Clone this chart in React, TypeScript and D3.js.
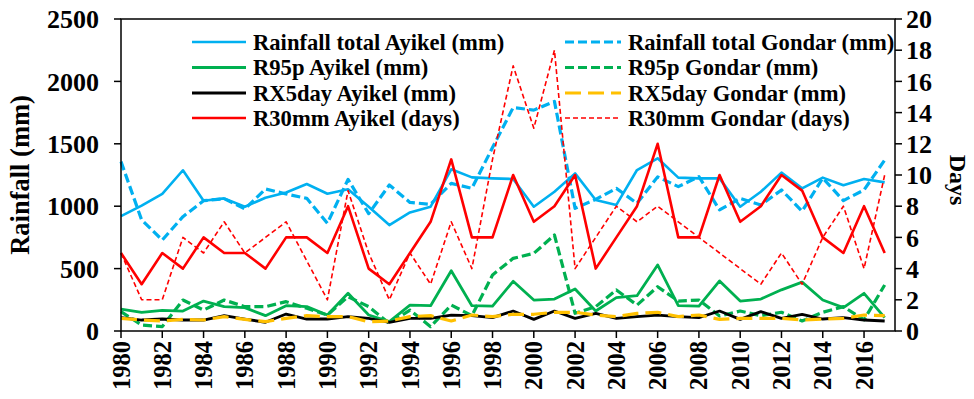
import React from "react";
import * as d3 from "d3";

const years: number[] = d3.range(1980, 2018);

const rainAyikel = [920, 1005, 1098, 1288, 1044, 1063, 996, 1068, 1110, 1178, 1100, 1135, 996, 849, 950, 996, 1296, 1231, 1223, 1218, 996, 1116, 1263, 1050, 1010, 1290, 1384, 1229, 1223, 1223, 996, 1116, 1269, 1143, 1229, 1168, 1218, 1191];
const rainGondar = [1357, 890, 729, 916, 1044, 1060, 978, 1138, 1098, 1063, 863, 1215, 940, 1170, 1030, 1015, 1183, 1143, 1470, 1790, 1770, 1840, 983, 1055, 1143, 1023, 1235, 1157, 1237, 970, 1063, 1010, 1130, 960, 1225, 1045, 1130, 1370];
const r95Ayikel = [176, 150, 166, 160, 240, 195, 187, 123, 203, 195, 128, 302, 128, 75, 208, 203, 483, 203, 200, 398, 248, 256, 337, 160, 267, 283, 529, 203, 200, 401, 240, 256, 330, 392, 248, 187, 302, 107];
const r95Gondar = [155, 48, 35, 248, 168, 248, 195, 195, 235, 182, 128, 275, 195, 61, 168, 35, 208, 123, 449, 582, 622, 769, 142, 195, 329, 208, 355, 240, 248, 120, 160, 123, 150, 80, 150, 195, 90, 369];
const rx5Ayikel = [107, 88, 96, 88, 88, 123, 96, 70, 136, 96, 96, 115, 101, 70, 101, 101, 128, 123, 107, 160, 93, 160, 101, 141, 101, 115, 128, 115, 107, 160, 93, 155, 101, 134, 96, 107, 88, 80];
const rx5Gondar = [101, 88, 80, 93, 88, 115, 93, 75, 101, 123, 115, 115, 75, 80, 115, 123, 80, 128, 115, 134, 134, 150, 150, 128, 115, 141, 150, 115, 128, 93, 101, 101, 101, 88, 96, 101, 128, 123];
const r30Ayikel = [5, 3, 5, 4, 6, 5, 5, 4, 6, 6, 5, 8, 4, 3, 5, 7, 11, 6, 6, 10, 7, 8, 10, 4, 6, 8, 12, 6, 6, 10, 7, 8, 10, 9, 6, 5, 8, 5];
const r30Gondar = [5, 2, 2, 6, 5, 7, 5, 6, 7, 4.5, 2, 9, 5, 2, 5, 3, 7, 4, 11, 17, 13, 18, 4, 6, 8, 7, 8, 7, 6, 5, 4, 3, 5, 3, 6, 8, 4, 10];

const leftTicks = [0, 500, 1000, 1500, 2000, 2500];
const rightTicks = [0, 2, 4, 6, 8, 10, 12, 14, 16, 18, 20];
const yearTicks = d3.range(1980, 2017, 2);

const FONT = "'Liberation Serif', 'Times New Roman', serif";

type Series = {
  name: string;
  values: number[];
  axis: "left" | "right";
  color: string;
  width: number;
  dash?: string;
};

const series: Series[] = [
  { name: "Rainfall total Ayikel (mm)", values: rainAyikel, axis: "left", color: "#00B0F0", width: 2.6 },
  { name: "Rainfall total Gondar (mm)", values: rainGondar, axis: "left", color: "#00B0F0", width: 3.2, dash: "9,4" },
  { name: "R95p Ayikel (mm)", values: r95Ayikel, axis: "left", color: "#00B050", width: 2.8 },
  { name: "R95p Gondar (mm)", values: r95Gondar, axis: "left", color: "#00B050", width: 3.2, dash: "9,4" },
  { name: "RX5day Ayikel (mm)", values: rx5Ayikel, axis: "left", color: "#000000", width: 2.8 },
  { name: "RX5day Gondar (mm)", values: rx5Gondar, axis: "left", color: "#FFC000", width: 3.2, dash: "16,7" },
  { name: "R30mm Ayikel (days)", values: r30Ayikel, axis: "right", color: "#FF0000", width: 2.6 },
  { name: "R30mm Gondar (days)", values: r30Gondar, axis: "right", color: "#FF0000", width: 1.6, dash: "5,3" },
];

const legendLeft = [0, 2, 4, 6];
const legendRight = [1, 3, 5, 7];

export default function App() {
  const W = 974, H = 399;
  const x0 = 121, x1 = 895, yTop = 19, yBot = 331;
  const x = d3.scaleLinear().domain([1980, 2017.5]).range([x0, x1]);
  const yL = d3.scaleLinear().domain([0, 2500]).range([yBot, yTop]);
  const yR = d3.scaleLinear().domain([0, 20]).range([yBot, yTop]);

  const mkLine = (s: Series) =>
    d3
      .line<number>()
      .x((_, i) => x(years[i]))
      .y((v) => (s.axis === "left" ? yL(v) : yR(v)))(s.values) || "";

  const rowY = [42, 67.5, 93, 118];

  return (
    <svg
      width={W}
      height={H}
      style={{ position: "absolute", left: 0, top: 0, background: "#fff" }}
      fontFamily={FONT}
      fontWeight="bold"
    >
      <rect x={0} y={0} width={W} height={H} fill="#fff" />
      {series.map((s) => (
        <path
          key={s.name}
          d={mkLine(s)}
          fill="none"
          stroke={s.color}
          strokeWidth={s.width}
          strokeDasharray={s.dash}
          strokeLinejoin="round"
        />
      ))}
      <rect x={x0} y={yTop} width={x1 - x0} height={yBot - yTop} fill="none" stroke="#000" strokeWidth={1.5} />
      {leftTicks.map((t) => (
        <g key={"l" + t}>
          <line x1={x0 - 7} x2={x0} y1={yL(t)} y2={yL(t)} stroke="#000" strokeWidth={1.5} />
          <text x={x0 - 22} y={yL(t)} dy="0.35em" textAnchor="end" fontSize={26}>
            {t}
          </text>
        </g>
      ))}
      {rightTicks.map((t) => (
        <g key={"r" + t}>
          <line x1={x1} x2={x1 + 7} y1={yR(t)} y2={yR(t)} stroke="#000" strokeWidth={1.5} />
          <text x={x1 + 11} y={yR(t)} dy="0.35em" textAnchor="start" fontSize={26}>
            {t}
          </text>
        </g>
      ))}
      {yearTicks.map((t) => (
        <g key={"x" + t}>
          <line x1={x(t)} x2={x(t)} y1={yBot} y2={yBot + 7} stroke="#000" strokeWidth={1.5} />
          <text
            transform={`translate(${x(t)},${yBot + 10}) rotate(-90)`}
            dy="0.35em"
            textAnchor="end"
            fontSize={24.5}
          >
            {t}
          </text>
        </g>
      ))}
      <text transform={`translate(20,175) rotate(-90)`} textAnchor="middle" dy="0.35em" fontSize={26.5}>
        Rainfall (mm)
      </text>
      <text transform={`translate(958,180) rotate(90)`} textAnchor="middle" dy="0.35em" fontSize={24}>
        Days
      </text>
      {legendLeft.map((idx, r) => {
        const s = series[idx];
        return (
          <g key={"lg" + idx}>
            <line x1={192} x2={246} y1={rowY[r]} y2={rowY[r]} stroke={s.color} strokeWidth={s.width} strokeDasharray={s.dash} />
            <text x={253} y={rowY[r]} dy="0.35em" fontSize={22.6}>
              {s.name}
            </text>
          </g>
        );
      })}
      {legendRight.map((idx, r) => {
        const s = series[idx];
        return (
          <g key={"lg" + idx}>
            <line x1={565} x2={621} y1={rowY[r]} y2={rowY[r]} stroke={s.color} strokeWidth={s.width} strokeDasharray={s.dash} />
            <text x={628} y={rowY[r]} dy="0.35em" fontSize={22.6}>
              {s.name}
            </text>
          </g>
        );
      })}
    </svg>
  );
}
